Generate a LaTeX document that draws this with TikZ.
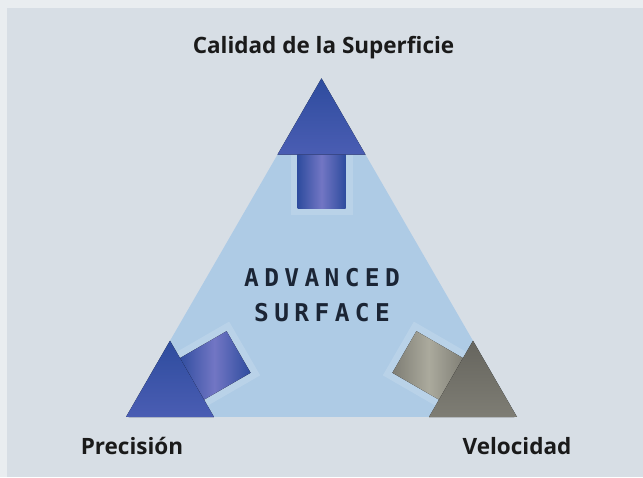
\documentclass[tikz,border=0pt]{standalone}
\usepackage{fontspec}
\setmainfont{Open Sans}
\newfontfamily\panelfont{DejaVu Sans Mono}[LetterSpace=22]
\usetikzlibrary{calc,positioning}

\definecolor{rimgray}{HTML}{E9EDF0}
\definecolor{panelgray}{HTML}{D7DEE5}
\definecolor{trifill}{HTML}{AECBE5}
\definecolor{bluedark}{HTML}{2E4C9E}
\definecolor{bluemid}{HTML}{4A5DB3}
\definecolor{bluelight}{HTML}{7276C4}
\definecolor{graydark}{HTML}{66655E}
\definecolor{graymid}{HTML}{7E7D74}
\definecolor{graylight}{HTML}{ABAA9D}
\definecolor{inktext}{HTML}{1A1A1A}
\definecolor{inknavy}{HTML}{1B2535}

% arrow with its tip at #1, turned by #2, head style #3, shaft style #4
\newcommand{\surfarrow}[4]{%
  \begin{scope}[shift={(#1)},rotate=#2]
    \fill[white,opacity=0.14] (-31,-70) rectangle (31,-137);
    \fill[#4] (-24,-74) rectangle (24,-130);
    \fill[#3] (0,0) -- (-44,-76.2) -- (44,-76.2) -- cycle;
  \end{scope}}

\tikzset{
  cornerlabel/.style={font=\bfseries\fontsize{22.5}{27}\selectfont, text=inktext, inner sep=0pt, anchor=base},
  centertext/.style={font=\panelfont\bfseries\fontsize{24.5}{30}\selectfont, text=inknavy, inner sep=0pt, anchor=base},
  bluehead/.style={top color=bluedark, bottom color=bluemid},
  blueshaft/.style={left color=bluedark, right color=bluedark, middle color=bluelight},
  grayhead/.style={top color=graydark, bottom color=graymid},
  grayshaft/.style={left color=graymid, right color=graymid, middle color=graylight}
}

\begin{document}
\begin{tikzpicture}[x=1pt,y=1pt]
  \useasboundingbox (0,0) rectangle (643,477);
  \fill[rimgray] (0,0) rectangle (643,477);
  \fill[panelgray] (7,0) rectangle (643,469);

  \coordinate (lcorner) at (126,60);
  \coordinate (rcorner) at (517,60);
  \coordinate (apex) at (321.5,398.6);

  \fill[trifill] (lcorner) -- (rcorner) -- (apex) -- cycle;

  \surfarrow{apex}{0}{bluehead}{blueshaft}
  \surfarrow{lcorner}{120}{bluehead}{blueshaft}
  \surfarrow{rcorner}{-120}{grayhead}{grayshaft}

  \node[centertext] (adv) at (322,190) {ADVANCED};
  \node[centertext] (surf) at (322,155) {SURFACE};

  \node[cornerlabel] (calidad) at ([xshift=2pt,yshift=25pt]apex) {Calidad de la Superficie};
  \node[cornerlabel] (precision) at ([xshift=6pt,yshift=-37pt]lcorner) {Precisión};
  \node[cornerlabel] (velocidad) at ([yshift=-37pt]rcorner) {Velocidad};
\end{tikzpicture}
\end{document}
